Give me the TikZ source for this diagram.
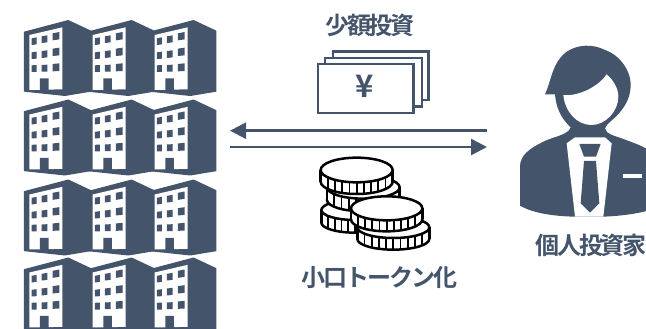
\documentclass[tikz,border=0pt]{standalone}
\usepackage{fontspec}
\newfontfamily\cjk{Noto Sans CJK JP Bold}[Script=CJK,LetterSpace=-9]
\newfontfamily\yenfont{Noto Sans CJK JP Bold}[Script=CJK]
\definecolor{navy}{HTML}{44546A}
\tikzset{
  zoomed/.style={x=0.33333pt,y=-0.33333pt},
  label/.style={text=navy,font=\cjk\fontsize{24}{26}\selectfont,inner sep=0pt},
  bill/.style={draw=navy,line width=2.4pt,fill=white},
  flow/.style={draw=navy,line width=2.5pt,-{Triangle[length=16pt,width=16pt]}},
  coinline/.style={draw=black,line width=2.5pt,fill=white}
}
\usetikzlibrary{arrows.meta}
\newcommand{\bldg}[2]{%
 \begin{scope}[shift={(#1pt,-#2pt)},zoomed]
  \fill[navy] (42,65)--(175,30)--(243,62)--(243,245)--(165,258)--(42,245)--cycle;
  \fill[white] (58,75)--(157,52)--(157,238)--(58,240)--cycle;
  \fill[navy] (65,85)--(80,82)--(80,103)--(65,105)--cycle
   (95,79)--(112,76)--(112,97)--(95,99)--cycle
   (128,70)--(148,66)--(148,88)--(128,91)--cycle
   (65,127)--(80,125)--(80,146)--(65,147)--cycle
   (95,123)--(112,121)--(112,142)--(95,144)--cycle
   (128,116)--(148,113)--(148,136)--(128,138)--cycle
   (65,166)--(80,165)--(80,186)--(65,186)--cycle
   (95,165)--(112,164)--(112,185)--(95,185)--cycle
   (128,162)--(148,160)--(148,183)--(128,184)--cycle
   (90,205)--(116,205)--(116,242)--(90,242)--cycle;
 \end{scope}}
\newcommand{\coin}[5]{%
  \draw[coinline] (#1,#2+#5) ellipse[x radius=#3,y radius=#4];
  \fill[white] (#1-#3,#2) rectangle (#1+#3,#2+#5);
  \draw[coinline] (#1-#3,#2)--(#1-#3,#2+#5) (#1+#3,#2)--(#1+#3,#2+#5);
  \foreach \k in {-4,...,4}
    \draw[black,line width=1.9pt] ({#1+\k*0.2*#3},{#2+#4*sqrt(1-(\k*0.2)^2)})--++(0,#5);
  \draw[coinline] (#1,#2) ellipse[x radius=#3,y radius=#4];
}
\begin{document}
\begin{tikzpicture}[x=1pt,y=-1pt]
\useasboundingbox (0,0) rectangle (646,329);
\clip (0,0) rectangle (646,329);
\foreach \r in {10,89.5,169.5,247.5}{
  \foreach \c in {10,73.3,135.3}{\bldg{\c}{\r}}}
% bills
\draw[bill] (332.7,51.7) rectangle (428.3,100);
\draw[bill] (325,58.3) rectangle (421.7,106.7);
\draw[bill] (317.7,64.3) rectangle (413.3,113.3);
\node[text=navy,font=\yenfont\fontsize{31}{31}\selectfont,inner sep=0pt] (yen) at (365,86) {¥};
% arrows
\coordinate (inRight) at (487,130.7);
\coordinate (inLeft) at (230,130.7);
\coordinate (outLeft) at (230,147);
\coordinate (outRight) at (487,147);
\draw[flow] (inRight)--(inLeft);
\draw[flow] (outLeft)--(outRight);
% coins
\begin{scope}[shift={(290pt,-150pt)},zoomed]
 \coin{195}{180}{101}{30}{38}
 \coin{220}{112}{109}{34}{38}
 \coin{200}{60}{108}{37}{35}
 \coin{310}{232}{108}{32}{35}
 \coin{290}{175}{107}{36}{33}
\end{scope}
% person
\begin{scope}[shift={(510pt,-40pt)},zoomed]
 \fill[navy] (105,163) .. controls (125,120) and (125,70) .. (170,35)
   .. controls (205,12) and (250,12) .. (285,30)
   .. controls (330,45) and (365,95) .. (362,140)
   .. controls (360,175) and (345,200) .. (325,222)
   .. controls (310,240) and (290,250) .. (285,265)
   .. controls (290,285) and (310,285) .. (340,297)
   .. controls (380,312) and (405,320) .. (420,335)
   -- (420,510) .. controls (380,522) and (330,528) .. (280,530)
   -- (190,530) .. controls (130,528) and (70,520) .. (30,497)
   -- (30,380) .. controls (30,345) and (60,325) .. (100,305)
   .. controls (130,290) and (175,285) .. (182,262)
   .. controls (165,245) and (140,220) .. (135,163) -- cycle;
 \fill[white] (160,165) .. controls (205,170) and (265,140) .. (290,103)
   .. controls (310,120) and (325,145) .. (325,170)
   .. controls (325,215) and (285,255) .. (245,255)
   .. controls (200,255) and (165,215) .. (160,165) -- cycle;
 \fill[white] (170,310) -- (195,292) -- (285,292) -- (305,310) -- (280,530) -- (195,530) -- cycle;
 \fill[navy] (208,312)--(272,312)--(258,350)--(222,350)--cycle
   (222,363)--(258,363)--(268,490)--(240,518)--(212,490)--cycle;
 \fill[white] (338,403)--(395,403)--(395,415)--(338,415)--cycle;
\end{scope}
% labels
\node[label] (invest) at (370,25.5) {少額投資};
\node[label] (token) at (379.5,278) {小口トークン化};
\node[label] (retail) at (591,245) {個人投資家};
\end{tikzpicture}
\end{document}
